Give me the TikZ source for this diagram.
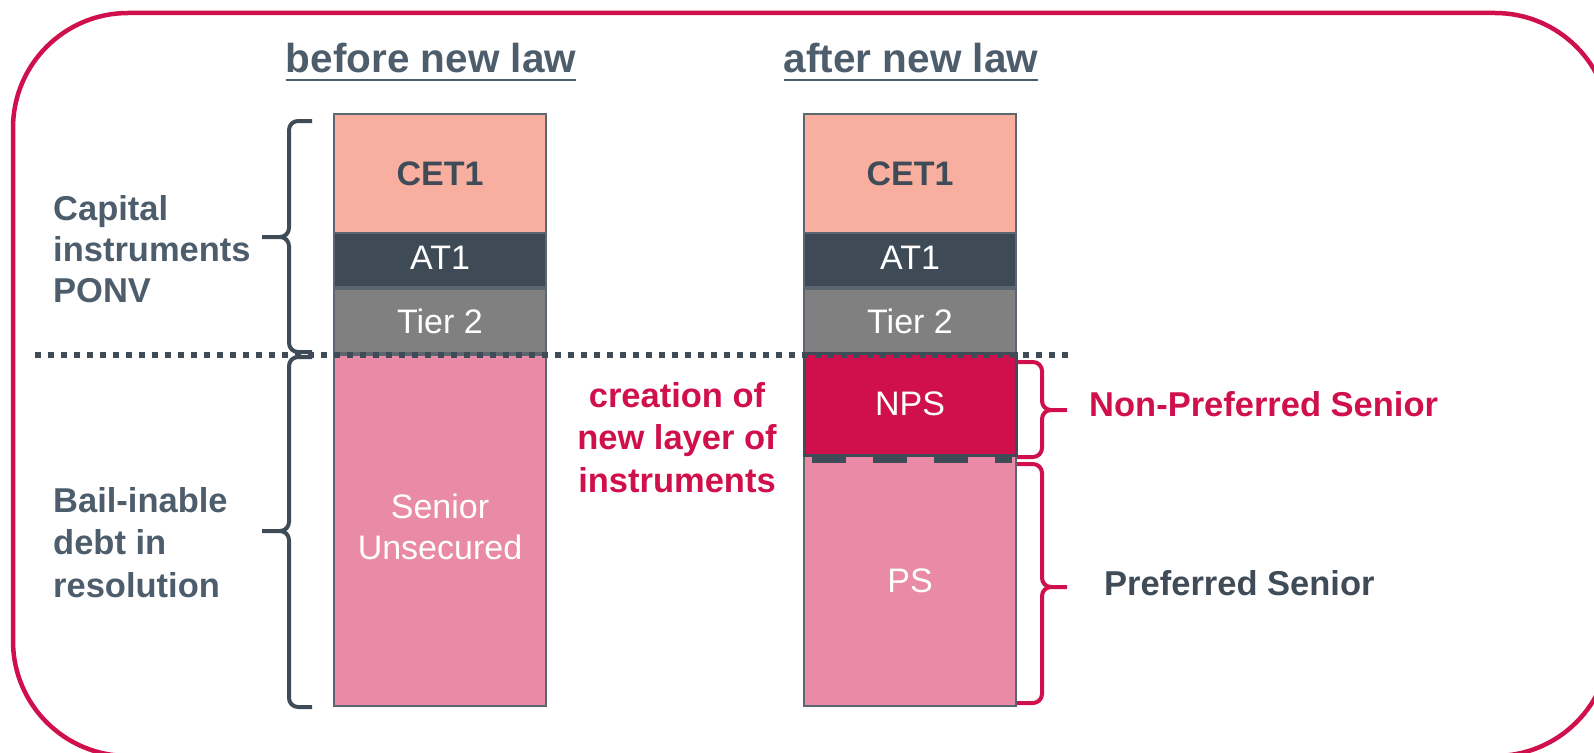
\documentclass[tikz,border=0pt]{standalone}
\usepackage{fontspec}
\setmainfont{Liberation Sans}
\definecolor{crim}{HTML}{D0104C}
\definecolor{slatetxt}{HTML}{4D5D6B}
\definecolor{slatedark}{HTML}{3F4B57}
\definecolor{salmon}{HTML}{F9AFA0}
\definecolor{atone}{HTML}{3E4A55}
\definecolor{tiertwo}{HTML}{808080}
\definecolor{pinkbox}{HTML}{E98AA6}
\definecolor{boxline}{HTML}{5B6670}
\begin{document}
\begin{tikzpicture}[x=1pt,y=-1pt,
  frame/.style={draw=crim, line width=4.5pt, rounded corners=115pt},
  blk/.style={draw=boxline, line width=1.5pt, minimum width=212pt, inner sep=0pt, outer sep=0pt, text=white, font=\fontsize{34}{42}\selectfont, align=center},
  head/.style={text=slatetxt, font=\fontsize{40.5}{48}\selectfont\bfseries, inner sep=0pt, anchor=base},
  ulline/.style={draw=slatetxt, line width=2.5pt},
  sidelab/.style={text=slatetxt, font=\fontsize{34.5}{41}\selectfont\bfseries, align=left, inner sep=0pt, anchor=base west},
  brc/.style={draw=slatedark, line width=4pt, rounded corners=9pt},
  brcred/.style={draw=crim, line width=4pt, rounded corners=9pt},
  dotline/.style={draw=slatedark, line width=6pt, dash pattern=on 6pt off 7pt},
  npsdash/.style={draw=slatedark, line width=8pt, dash pattern=on 34pt off 27pt}
]
\useasboundingbox (0,0) rectangle (1594,752);
\clip (0,0) rectangle (1594,752);
\draw[frame] (13,13) rectangle (1610,756);

% headings
\node[head] (before) at (431,73) {before new law};
\node[head] (after) at (911,73) {after new law};
\draw[ulline] ([yshift=-7pt]before.base west) -- ([yshift=-7pt]before.base east);
\draw[ulline] ([yshift=-7pt]after.base west) -- ([yshift=-7pt]after.base east);

% left column
\node[blk, fill=salmon, minimum height=119pt, text=slatedark, font=\fontsize{34}{42}\selectfont\bfseries] (cetL) at (440,173.5) {CET1};
\node[blk, fill=atone, minimum height=54pt] (atL) at (440,260) {\raisebox{4pt}{AT1}};
\node[blk, fill=tiertwo, minimum height=64pt] (tierL) at (440,321) {Tier 2};
\node[blk, fill=pinkbox, minimum height=351pt] (senL) at (440,530.5) {\raisebox{4pt}{\begin{tabular}{@{}c@{}}Senior\\[-0.5pt]Unsecured\end{tabular}}};

% right column
\node[blk, fill=salmon, minimum height=119pt, text=slatedark, font=\fontsize{34}{42}\selectfont\bfseries] (cetR) at (910,173.5) {CET1};
\node[blk, fill=atone, minimum height=54pt] (atR) at (910,260) {\raisebox{4pt}{AT1}};
\node[blk, fill=tiertwo, minimum height=64pt] (tierR) at (910,321) {Tier 2};
\node[blk, fill=pinkbox, minimum height=251pt] (psR) at (910,580.5) {\raisebox{-3pt}{PS}};
\node[blk, fill=crim, draw=slatedark, line width=3pt, minimum height=102pt] (npsR) at (910,404) {NPS};

% dividing dotted line and NPS lower edge
\coordinate (dotA) at (35,355);
\coordinate (dotB) at (1069,355);
\draw[dotline] (dotA) -- (dotB);
\draw[npsdash] ([xshift=8pt,yshift=-4pt]npsR.south west) -- ([xshift=-4pt,yshift=-4pt]npsR.south east);

% side labels (anchor = baseline of last line)
\node[sidelab] (cap) at (53,302) {Capital\\instruments\\PONV};
\node[sidelab, font=\fontsize{34.5}{42.5}\selectfont\bfseries] (bail) at (53,597) {Bail-inable\\debt in\\resolution};
\node[text=crim, font=\fontsize{34.5}{42.5}\selectfont\bfseries, align=center, inner sep=0pt, anchor=base] (creat) at (677,492) {creation of\\new layer of\\instruments};
\node[text=crim, font=\fontsize{34.5}{42}\selectfont\bfseries, inner sep=0pt, anchor=base west] (nonpref) at (1089,416) {Non-Preferred Senior};
\node[text=slatedark, font=\fontsize{34.5}{42}\selectfont\bfseries, inner sep=0pt, anchor=base west] (pref) at (1104,595) {Preferred Senior};

% braces
\draw[brc] (312,121) -| (289,237) -- (262,237) (262,237) -- (289,237) |- (312,352);
\draw[brc] (312,357) -| (289,531) -- (262,531) (262,531) -- (289,531) |- (312,707);
\draw[brcred] (1017,362) -| (1042,410) -- (1067,410) (1067,410) -- (1042,410) |- (1017,457);
\draw[brcred] (1017,464) -| (1042,587) -- (1067,587) (1067,587) -- (1042,587) |- (1017,703);
\end{tikzpicture}
\end{document}
